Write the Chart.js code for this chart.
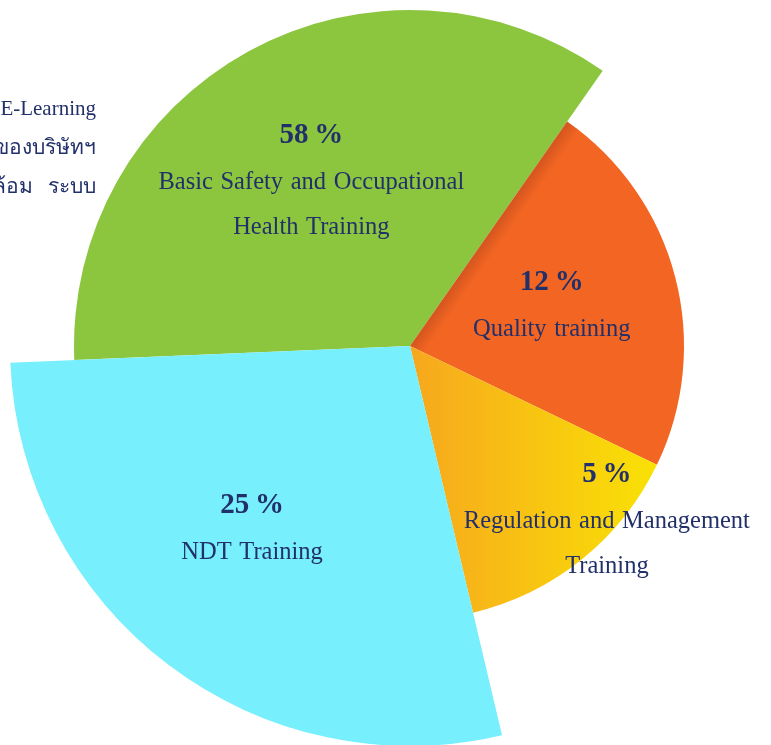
<!DOCTYPE html>
<html>
<head>
<meta charset="utf-8">
<script src="https://cdn.jsdelivr.net/npm/chart.js@4.4.1/dist/chart.umd.min.js"></script>
<style>
  html, body { margin: 0; padding: 0; background: #fff; overflow: hidden; }
  #wrap { position: relative; width: 771px; height: 745px; }
  .side { position: absolute; right: 675px; white-space: nowrap; text-align: right;
          font-family: 'Liberation Serif', serif; font-size: 21px; color: #22306a; line-height: 24px; }
</style>
</head>
<body>
<div id="wrap">
  <div class="side" style="top:96px">E-Learning</div>
  <div class="side" style="top:135px">ของบริษัทฯ</div>
  <div class="side" style="top:174px;word-spacing:10px">ล้อม ระบบ</div>
  <canvas id="chart" width="771" height="745"></canvas>
</div>
<script>
// slices, clockwise from the left edge
const categories = ['Basic Safety and Occupational Health Training', 'Quality training',
  'Regulation and Management Training', 'NDT Training'];
const labelLines = [['Basic Safety and Occupational', 'Health Training'], ['Quality training'],
  ['Regulation and Management', 'Training'], ['NDT Training']];
const percents = [58, 12, 5, 25];
const radiusValues = [84, 68.5, 68.5, 100];   // relative slice length
const sliceAngles = [127.4, 80.7, 51, 100.9];  // degrees

const START_ANGLE = 267.6;
const NAVY = '#22306a';
// label placement: fraction of the radius, angle nudge in degrees
const labelPlace = [[0.575, -2], [0.54, -2], [0.955, -10], [0.6, 4]];

function sliceFill(ctx) {
  const chart = ctx.chart;
  const r = chart.scales.r;
  const i = ctx.dataIndex;
  if (!r || r.xCenter === undefined) return ['#8cc63f', '#f26522', '#f9c412', '#77effd'][i];
  const cx = r.xCenter, cy = r.yCenter;
  const c = chart.ctx;
  if (i === 1) {
    // darker band along the edge next to the green slice
    const a = (START_ANGLE + sliceAngles[0]) * Math.PI / 180;
    const px = Math.cos(a), py = Math.sin(a);
    const g = c.createLinearGradient(cx, cy, cx + px * 15, cy + py * 15);
    g.addColorStop(0, '#d3551f');
    g.addColorStop(1, '#f26522');
    return g;
  }
  if (i === 2) {
    const g = c.createLinearGradient(cx, 0, cx + 250, 0);
    g.addColorStop(0, '#f7a71e');
    g.addColorStop(1, '#f9e205');
    return g;
  }
  return ['#8cc63f', '#f26522', '#f9c412', '#77effd'][i];
}

const sliceLabels = {
  id: 'sliceLabels',
  afterDatasetsDraw(chart) {
    const ctx = chart.ctx;
    const meta = chart.getDatasetMeta(0);
    ctx.save();
    ctx.fillStyle = NAVY;
    ctx.textAlign = 'center';
    ctx.textBaseline = 'middle';
    meta.data.forEach((arc, i) => {
      const p = arc.getProps(['x', 'y', 'startAngle', 'endAngle', 'outerRadius'], true);
      const mid = (p.startAngle + p.endAngle) / 2 + labelPlace[i][1] * Math.PI / 180;
      const rr = p.outerRadius * labelPlace[i][0];
      const bx = p.x + Math.cos(mid) * rr;
      const by = p.y + Math.sin(mid) * rr;
      const lines = [percents[i] + '\u2009%'].concat(labelLines[i]);
      const step = 45;
      let y = by - (lines.length - 1) * step / 2;
      lines.forEach((t, k) => {
        if (k === 0) {
          ctx.font = 'bold 29px "Liberation Serif"';
          ctx.wordSpacing = '0px';
          ctx.fillText(t, bx, y + 1);
        } else {
          ctx.font = '24.5px "Liberation Serif"';
          ctx.wordSpacing = '1.5px';
          ctx.fillText(t, bx, y + 3);
        }
        y += step;
      });
    });
    ctx.restore();
  }
};

new Chart(document.getElementById('chart'), {
  type: 'polarArea',
  data: {
    labels: categories,
    datasets: [{
      data: radiusValues,
      backgroundColor: sliceFill,
      borderWidth: 0,
      angle: ctx => sliceAngles[ctx.dataIndex],
      clip: false
    }]
  },
  options: {
    responsive: false,
    animation: false,
    layout: { padding: { left: 49, right: 0, top: 0, bottom: 53 } },
    plugins: { legend: { display: false }, tooltip: { enabled: false } },
    scales: {
      r: {
        display: false,
        min: 0,
        max: 86.5,
        startAngle: START_ANGLE
      }
    }
  },
  plugins: [sliceLabels]
});
</script>
</body>
</html>
